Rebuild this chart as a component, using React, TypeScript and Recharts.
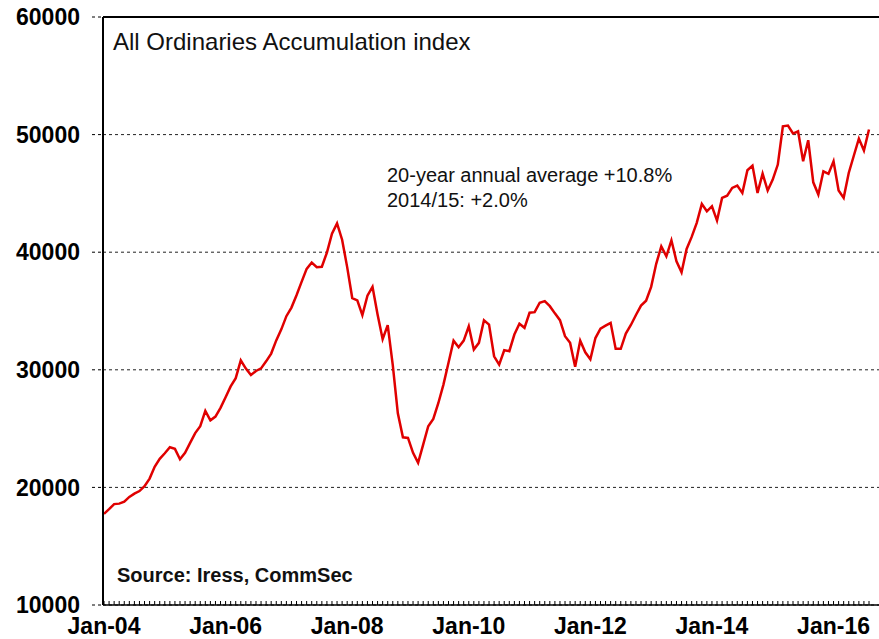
import { CartesianGrid, Line, LineChart, ReferenceLine, XAxis, YAxis } from "recharts"

// All Ordinaries Accumulation index, monthly
const indexValues = [
  17750, 18150, 18580, 18620, 18780, 19190, 19470, 19690, 20100, 20750, 21750, 22430,
  22900, 23410, 23280, 22400, 22950, 23790, 24620, 25210, 26500, 25700, 26020, 26760,
  27660, 28590, 29290, 30800, 30100, 29550, 29900, 30120, 30720, 31380, 32500, 33440,
  34560, 35290, 36340, 37480, 38580, 39120, 38730, 38760, 39970, 41570, 42450, 41060,
  38730, 36100, 35900, 34650, 36300, 37050, 34700, 32600, 33800, 30400, 26300, 24260,
  24210, 22940, 22090, 23640, 25200, 25830, 27180, 28740, 30600, 32480, 31920, 32480,
  33700, 31720, 32290, 34210, 33840, 31150, 30440, 31660, 31580, 33000, 33910, 33570,
  34850, 34900, 35700, 35840, 35410, 34800, 34220, 32860, 32290, 30250, 32480, 31490,
  30900, 32700, 33500, 33750, 33990, 31780, 31780, 33080, 33810, 34660, 35460, 35870,
  37050, 39010, 40500, 39650, 41010, 39230, 38290, 40280, 41300, 42500, 44110, 43480,
  43910, 42690, 44620, 44810, 45470, 45660, 45040, 46970, 47360, 45040, 46680, 45240,
  46170, 47450, 50710, 50770, 50090, 50280, 47730, 49520, 45940, 44900, 46880, 46660,
  47730, 45240, 44620, 46740, 48200, 49660, 48640, 50430,
]

const startYear = 2004
const monthNames = ["Jan", "Feb", "Mar", "Apr", "May", "Jun", "Jul", "Aug", "Sep", "Oct", "Nov", "Dec"]
const xTickLabels = ["Jan-04", "Jan-06", "Jan-08", "Jan-10", "Jan-12", "Jan-14", "Jan-16"]
const yTicks = [10000, 20000, 30000, 40000, 50000, 60000]

const title = "All Ordinaries Accumulation index"
const noteLines = ["20-year annual average +10.8%", "2014/15: +2.0%"]
const sourceText = "Source: Iress, CommSec"

const chartData = indexValues.map((value, i) => ({
  month: `${monthNames[i % 12]}-${String((startYear + Math.floor(i / 12)) % 100).padStart(2, "0")}`,
  value,
}))

const font = "'Liberation Sans', Arial, sans-serif"

function MonthTick(props: any) {
  const { x, y, payload } = props
  const show = xTickLabels.includes(payload.value)
  return (
    <g>
      <line x1={x} x2={x} y1={y} y2={y - 4} stroke="#000" strokeWidth={1} />
      {show && (
        <text x={x} y={y + 29} textAnchor="middle" fontFamily={font} fontWeight="bold" fontSize={23} fill="#000">
          {payload.value}
        </text>
      )}
    </g>
  )
}

export default function App() {
  return (
    <div style={{ position: "relative", width: 879, height: 639, background: "#fff", overflow: "hidden" }}>
      <style>{`html, body { margin: 0; padding: 0; overflow: hidden; }`}</style>
      <LineChart width={879} height={639} data={chartData} margin={{ top: 17, right: 0, bottom: 0, left: 0 }}>
        <CartesianGrid vertical={false} stroke="#222" strokeDasharray="3 3" />
        <XAxis
          dataKey="month"
          interval={0}
          height={34}
          tickSize={0}
          tickMargin={0}
          tickLine={false}
          padding={{ left: 1, right: 10 }}
          axisLine={{ stroke: "#000", strokeWidth: 1.5 }}
          tick={<MonthTick />}
        />
        <YAxis
          width={103}
          domain={[10000, 60000]}
          ticks={yTicks}
          interval={0}
          tickSize={11}
          tickMargin={12}
          axisLine={{ stroke: "#000", strokeWidth: 2 }}
          tickLine={{ stroke: "#000", strokeDasharray: "3 3" }}
          tick={{ fontFamily: font, fontWeight: "bold", fontSize: 23, fill: "#000" }}
        />
        <ReferenceLine y={60000} stroke="#000" strokeWidth={2} />
        <Line
          type="linear"
          dataKey="value"
          stroke="#e00000"
          strokeWidth={2.5}
          dot={false}
          isAnimationActive={false}
        />
      </LineChart>
      <svg width={879} height={639} style={{ position: "absolute", left: 0, top: 0, pointerEvents: "none" }}>
        <text x={113} y={50} fontFamily={font} fontSize={24} fill="#111">
          {title}
        </text>
        {noteLines.map((line, i) => (
          <text key={line} x={387} y={182 + i * 24.5} fontFamily={font} fontSize={20} fill="#111">
            {line}
          </text>
        ))}
        <text x={117} y={582} fontFamily={font} fontWeight="bold" fontSize={20} fill="#111">
          {sourceText}
        </text>
      </svg>
    </div>
  )
}
